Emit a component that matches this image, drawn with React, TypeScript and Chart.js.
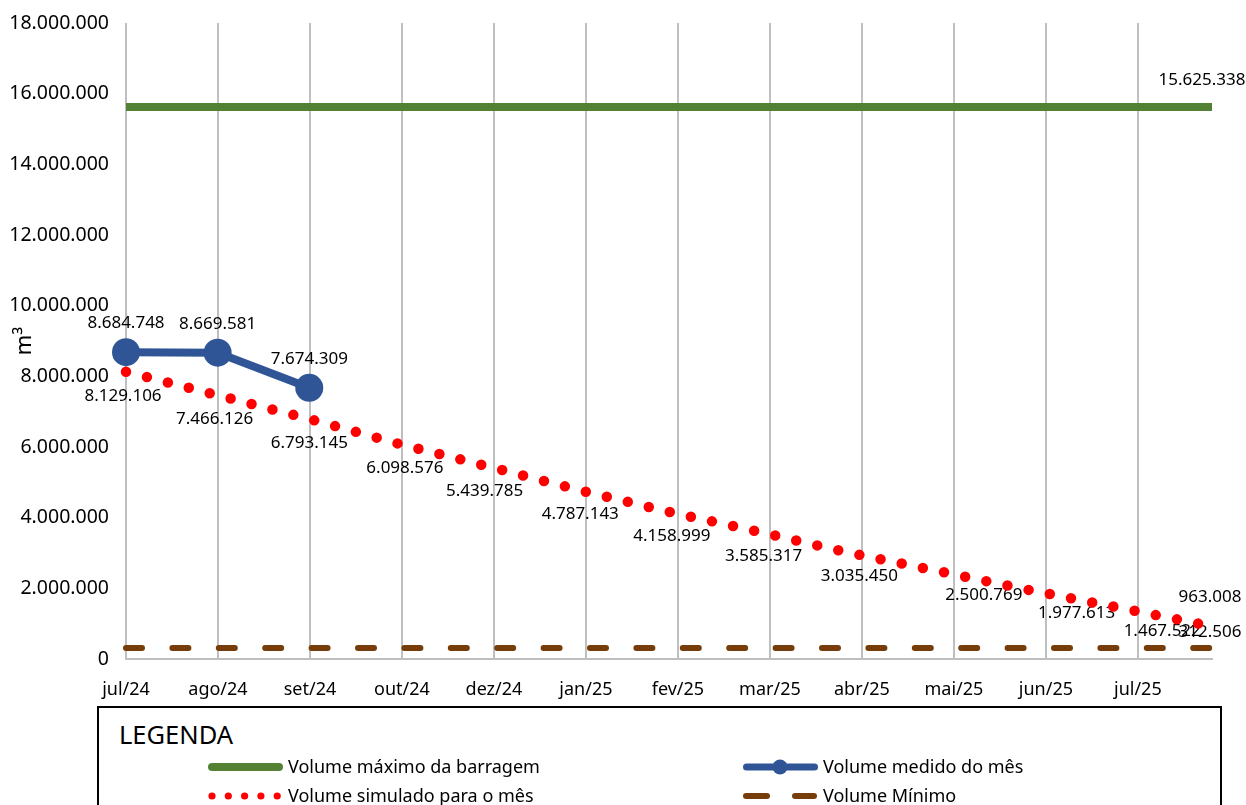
import React, { useEffect, useRef } from "react";
import { Chart, registerables } from "chart.js";

Chart.register(...registerables);

// ---- data ----
const MONTH_LABELS = ["jul/24", "ago/24", "set/24", "out/24", "dez/24", "jan/25", "fev/25", "mar/25", "abr/25", "mai/25", "jun/25", "jul/25"];
const SERIES_NAMES = ["Volume máximo da barragem", "Volume medido do mês", "Volume simulado para o mês", "Volume Mínimo"];

// days counted from 1 Jul 2024 (first day of each month)
const SIM_DAYS = [0, 31, 62, 92, 123, 153, 184, 215, 243, 274, 304, 335, 365];
const SIM_VALUES = [8129106, 7466126, 6793145, 6098576, 5439785, 4787143, 4158999, 3585317, 3035450, 2500769, 1977613, 1467522, 963008];
const MEASURED_DAYS = [0, 31, 62];
const MEASURED_VALUES = [8684748, 8669581, 7674309];
const MAX_VOLUME = 15625338;
const MIN_VOLUME = 312506;
const Y_MAX = 18000000;
const Y_STEP = 2000000;
const X_END_DAY = 367.4;
const X_TICK_STEP_DAYS = 31.12;

const COLORS = { max: "#548235", measured: "#2F5597", sim: "#FF0000", min: "#763C0A" };
const FONT = "'Noto Sans', sans-serif";

const fmt = (v: number) => Math.round(v).toString().replace(/\B(?=(\d{3})+(?!\d))/g, ".");

const valueLabels = {
  id: "valueLabels",
  beforeDatasetsDraw(chart: any) {
    const ctx = chart.ctx;
    ctx.save();
    ctx.font = `17px ${FONT}`;
    ctx.fillStyle = "#000";
    ctx.textAlign = "center";
    ctx.textBaseline = "alphabetic";
    chart.data.datasets.forEach((ds: any, di: number) => {
      const cfg = ds.valueLabels;
      if (!cfg) return;
      const meta = chart.getDatasetMeta(di);
      const n = meta.data.length;
      meta.data.forEach((pt: any, i: number) => {
        const last = i === n - 1;
        if (cfg.lastOnly && !last) return;
        const dy = last && cfg.lastDy !== undefined ? cfg.lastDy : cfg.dy;
        const dx = cfg.nudge && cfg.nudge[i] !== undefined ? cfg.nudge[i] : 0;
        const v = ds.data[i].y;
        ctx.fillText(fmt(v), pt.x + dx, pt.y + dy + 6);
      });
    });
    ctx.restore();
  },
};

function ChartCanvas() {
  const ref = useRef<HTMLCanvasElement | null>(null);
  useEffect(() => {
    if (!ref.current) return;
    const chart = new Chart(ref.current, {
      type: "line",
      data: {
        datasets: [
          {
            label: SERIES_NAMES[0],
            data: [{ x: 0, y: MAX_VOLUME }, { x: X_END_DAY, y: MAX_VOLUME }],
            borderColor: COLORS.max,
            borderWidth: 8,
            pointRadius: 0,
            clip: false,
            order: 2,
            valueLabels: { lastOnly: true, dy: -28, nudge: { 1: -10 } },
          } as any,
          {
            label: SERIES_NAMES[1],
            data: MEASURED_DAYS.map((d, i) => ({ x: d, y: MEASURED_VALUES[i] })),
            borderColor: COLORS.measured,
            backgroundColor: COLORS.measured,
            borderWidth: 8,
            pointRadius: 14,
            pointBackgroundColor: COLORS.measured,
            pointBorderColor: COLORS.measured,
            pointBorderWidth: 0,
            clip: false,
            order: 0,
            valueLabels: { dy: -30 },
          } as any,
          {
            label: SERIES_NAMES[2],
            data: SIM_DAYS.map((d, i) => ({ x: d, y: SIM_VALUES[i] })),
            borderColor: COLORS.sim,
            borderWidth: 10.5,
            borderDash: [0, 21.6],
            borderCapStyle: "round",
            pointRadius: 0,
            clip: false,
            order: 1,
            valueLabels: {
              dy: 23,
              lastDy: -29,
              nudge: { 0: -3, 1: -3, 3: 7, 4: -5, 5: 2, 6: 2, 7: 2, 8: 15, 9: 48, 10: 52, 11: 46, 12: 5 },
            },
          } as any,
          {
            label: SERIES_NAMES[3],
            data: [{ x: 0, y: MIN_VOLUME }, { x: X_END_DAY, y: MIN_VOLUME }],
            borderColor: COLORS.min,
            borderWidth: 6,
            borderDash: [16, 30.4],
            borderCapStyle: "round",
            pointRadius: 0,
            clip: false,
            order: 3,
            valueLabels: { lastOnly: true, dy: -17, nudge: { 1: -2 } },
          } as any,
        ],
      },
      options: {
        responsive: false,
        devicePixelRatio: 1,
        animation: false,
        layout: { padding: { top: 23, right: 34, bottom: 0, left: 0 } },
        plugins: { legend: { display: false }, tooltip: { enabled: false } },
        scales: {
          x: {
            type: "linear",
            min: 0,
            max: X_END_DAY,
            afterBuildTicks: (s: any) => {
              s.ticks = MONTH_LABELS.map((_, i) => ({ value: i * X_TICK_STEP_DAYS }));
            },
            afterFit: (s: any) => {
              s.height = 46;
            },
            ticks: {
              autoSkip: false,
              maxRotation: 0,
              padding: 20,
              color: "#000",
              font: { family: FONT, size: 18 },
              callback: (_v: any, i: number) => MONTH_LABELS[i] ?? "",
            },
            grid: { color: "#BFBFBF", lineWidth: 2, drawTicks: false },
            border: { display: true, color: "#BFBFBF", width: 2 },
          },
          y: {
            min: 0,
            max: Y_MAX,
            afterFit: (s: any) => {
              s.width = 126;
              s.paddingTop = 4;
              s.paddingBottom = 4;
            },
            ticks: {
              stepSize: Y_STEP,
              padding: 17,
              color: "#000",
              font: { family: FONT, size: 19.5 },
              callback: (v: any) => fmt(Number(v)),
            },
            grid: { display: false, drawTicks: false },
            border: { display: false },
            title: {
              display: true,
              text: "m³",
              color: "#000",
              font: { family: FONT, size: 22 },
              padding: { top: 12, bottom: 0 },
            },
          },
        },
      } as any,
      plugins: [valueLabels],
    });
    return () => chart.destroy();
  }, []);
  return <canvas ref={ref} width={1246} height={705} style={{ position: "absolute", left: 0, top: 0, width: 1246, height: 705 }} />;
}

function Legend() {
  const text = (s: string, left: number, top: number) => (
    <span style={{ position: "absolute", left, top, fontSize: 18, lineHeight: "18px", whiteSpace: "nowrap", color: "#000" }}>{s}</span>
  );
  const dots = [212, 228.3, 244.6, 260.9, 277.2];
  return (
    <>
      <div style={{ position: "absolute", left: 97, top: 706, width: 1125, height: 130, border: "2px solid #000", boxSizing: "border-box" }} />
      <span style={{ position: "absolute", left: 119, top: 722, fontSize: 25.5, lineHeight: "25px", color: "#000" }}>LEGENDA</span>
      <svg width={1246} height={805} style={{ position: "absolute", left: 0, top: 0, pointerEvents: "none" }}>
        <line x1={212} x2={279} y1={767} y2={767} stroke={COLORS.max} strokeWidth={8} strokeLinecap="round" />
        <line x1={746.5} x2={814.5} y1={767} y2={767} stroke={COLORS.measured} strokeWidth={7} strokeLinecap="round" />
        <circle cx={780} cy={767} r={7.5} fill={COLORS.measured} />
        {dots.map((x) => (
          <circle key={x} cx={x} cy={796} r={3.6} fill={COLORS.sim} />
        ))}
        <line x1={746} x2={767} y1={796} y2={796} stroke={COLORS.min} strokeWidth={6} strokeLinecap="round" />
        <line x1={795} x2={814} y1={796} y2={796} stroke={COLORS.min} strokeWidth={6} strokeLinecap="round" />
      </svg>
      {text(SERIES_NAMES[0], 288, 757.4)}
      {text(SERIES_NAMES[1], 823, 757.4)}
      {text(SERIES_NAMES[2], 288, 786.4)}
      {text(SERIES_NAMES[3], 823, 786.4)}
    </>
  );
}

export default function App() {
  return (
    <div style={{ position: "absolute", left: 0, top: 0, width: 1246, height: 805, overflow: "hidden", background: "#fff", fontFamily: FONT }}>
      <ChartCanvas />
      <Legend />
    </div>
  );
}
